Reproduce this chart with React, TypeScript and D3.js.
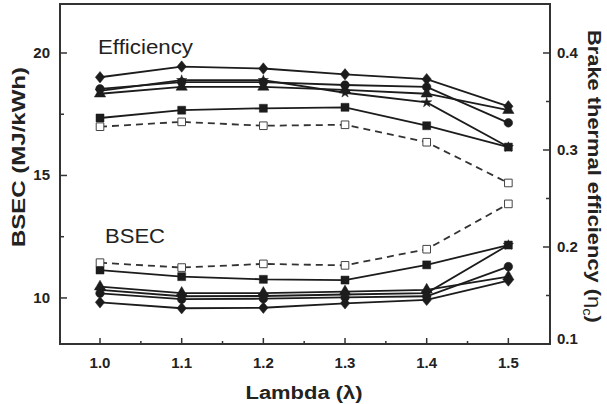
import { useEffect, useRef } from 'react';
import * as d3 from 'd3';

// Excess air ratio on the x axis
const lambda = [1.0, 1.1, 1.2, 1.3, 1.4, 1.5];

// Brake thermal efficiency (right axis)
const effDiamond = [0.375, 0.386, 0.384, 0.378, 0.373, 0.345];
const effCircle = [0.363, 0.37, 0.37, 0.367, 0.365, 0.328];
const effStar = [0.361, 0.372, 0.372, 0.359, 0.349, 0.303];
const effTriangle = [0.358, 0.365, 0.365, 0.362, 0.358, 0.341];
const effSquare = [0.333, 0.341, 0.343, 0.344, 0.325, 0.303];
const effOpen = [0.324, 0.329, 0.325, 0.326, 0.308, 0.266];

// Brake specific energy consumption, MJ/kWh (left axis)
const bsecDiamond = [9.82, 9.58, 9.6, 9.78, 9.92, 10.71];
const bsecCircle = [10.19, 9.95, 9.97, 10.02, 10.07, 11.28];
const bsecStar = [10.33, 10.07, 10.08, 10.14, 10.2, 12.16];
const bsecTriangle = [10.46, 10.2, 10.2, 10.26, 10.33, 10.87];
const bsecSquare = [11.14, 10.87, 10.76, 10.73, 11.35, 12.16];
const bsecOpen = [11.44, 11.24, 11.39, 11.33, 11.99, 13.84];

const xTicks = [1.0, 1.1, 1.2, 1.3, 1.4, 1.5];
const leftTicks = [10, 15, 20];
const rightTicks = [0.1, 0.2, 0.3, 0.4];

const INK = '#1c1c1c';
const FONT = "'Liberation Sans', Arial, Helvetica, sans-serif";

// custom diamond, a bit wider than d3.symbolDiamond
const diamond = {
  draw(ctx, size) {
    const h = Math.sqrt(size) * 0.62;
    const w = h * 0.82;
    ctx.moveTo(0, -h);
    ctx.lineTo(w, 0);
    ctx.lineTo(0, h);
    ctx.lineTo(-w, 0);
    ctx.closePath();
  }
};

// star first so the other symbols sit on top of it
const series = [
  { eff: effStar, bsec: bsecStar, type: d3.symbolStar, size: 32, open: false },
  { eff: effTriangle, bsec: bsecTriangle, type: d3.symbolTriangle, size: 55, open: false },
  { eff: effCircle, bsec: bsecCircle, type: d3.symbolCircle, size: 58, open: false },
  { eff: effDiamond, bsec: bsecDiamond, type: diamond, size: 85, open: false },
  { eff: effSquare, bsec: bsecSquare, type: d3.symbolSquare, size: 64, open: false },
  { eff: effOpen, bsec: bsecOpen, type: d3.symbolSquare, size: 58, open: true }
];

const App = () => {
  const svgRef = useRef(null);

  useEffect(() => {
    const svg = d3.select(svgRef.current);
    svg.selectAll('*').remove();

    const left = 60, right = 550, top = 4, bottom = 344;

    const x = d3.scaleLinear().domain([0.951, 1.551]).range([left, right]);
    const yL = d3.scaleLinear().domain([8.12, 22]).range([bottom, top]);
    const yR = d3.scaleLinear().domain([0.1, 0.4505]).range([bottom, top]);

    const g = svg.append('g');

    // Frame
    g.append('rect')
      .attr('x', left)
      .attr('y', top)
      .attr('width', right - left)
      .attr('height', bottom - top)
      .attr('fill', 'none')
      .attr('stroke', '#333')
      .attr('stroke-width', 2);

    // x ticks, pointing inward
    const xMinor = d3.range(1.05, 1.5, 0.1);
    g.selectAll('.xt')
      .data(xTicks)
      .enter()
      .append('line')
      .attr('x1', d => x(d))
      .attr('x2', d => x(d))
      .attr('y1', bottom)
      .attr('y2', bottom - 6)
      .attr('stroke', '#333')
      .attr('stroke-width', 1.5);
    g.selectAll('.xm')
      .data(xMinor)
      .enter()
      .append('line')
      .attr('x1', d => x(d))
      .attr('x2', d => x(d))
      .attr('y1', bottom)
      .attr('y2', bottom - 3)
      .attr('stroke', '#333')
      .attr('stroke-width', 1.5);
    g.selectAll('.xl')
      .data(xTicks)
      .enter()
      .append('text')
      .attr('x', d => x(d))
      .attr('y', 368)
      .attr('text-anchor', 'middle')
      .style('font', `bold 15px ${FONT}`)
      .attr('fill', '#222')
      .text(d => d.toFixed(1));

    // left ticks
    [...leftTicks, 12.5, 17.5].forEach(v => {
      const major = leftTicks.includes(v);
      g.append('line')
        .attr('x1', left)
        .attr('x2', left + (major ? 7 : 4))
        .attr('y1', yL(v))
        .attr('y2', yL(v))
        .attr('stroke', '#333')
        .attr('stroke-width', 1.5);
    });
    g.selectAll('.yl')
      .data(leftTicks)
      .enter()
      .append('text')
      .attr('x', 50)
      .attr('y', d => yL(d) + 5)
      .attr('text-anchor', 'end')
      .style('font', `bold 15px ${FONT}`)
      .attr('fill', '#222')
      .text(d => d);

    // right ticks
    [...rightTicks, 0.15, 0.25, 0.35].forEach(v => {
      const major = rightTicks.includes(v);
      g.append('line')
        .attr('x1', right)
        .attr('x2', right - (major ? 7 : 4))
        .attr('y1', yR(v))
        .attr('y2', yR(v))
        .attr('stroke', '#333')
        .attr('stroke-width', 1.5);
    });
    g.selectAll('.yr')
      .data(rightTicks)
      .enter()
      .append('text')
      .attr('x', 557)
      .attr('y', d => (d === 0.1 ? yR(d) : yR(d) + 5))
      .style('font', `bold 15px ${FONT}`)
      .attr('fill', '#222')
      .text(d => d.toFixed(1));

    // Axis titles
    g.append('text')
      .attr('x', 304)
      .attr('y', 399)
      .attr('text-anchor', 'middle')
      .attr('textLength', 117)
      .attr('lengthAdjust', 'spacingAndGlyphs')
      .style('font', `bold 18px ${FONT}`)
      .attr('fill', '#222')
      .text('Lambda (λ)');

    g.append('text')
      .attr('transform', 'translate(25,157) rotate(-90)')
      .attr('text-anchor', 'middle')
      .attr('textLength', 180)
      .attr('lengthAdjust', 'spacingAndGlyphs')
      .style('font', `bold 19px ${FONT}`)
      .attr('fill', '#222')
      .text('BSEC (MJ/kWh)');

    const rt = g.append('text')
      .attr('transform', 'translate(588,30) rotate(90)')
      .style('font', `bold 18px ${FONT}`)
      .attr('fill', '#222');
    rt.append('tspan').text('Brake thermal efficiency (');
    rt.append('tspan').style('font-weight', 'normal').text('η');
    rt.append('tspan').attr('dy', 5).style('font-size', '12px').style('font-weight', 'normal').text('c');
    rt.append('tspan').attr('dy', -5).text(')');
    const len = rt.node().getComputedTextLength();
    rt.attr('transform', `translate(588,30) rotate(90) scale(${293 / len},1)`);

    // Group labels
    g.append('text')
      .attr('x', 98)
      .attr('y', 54)
      .attr('textLength', 95)
      .attr('lengthAdjust', 'spacingAndGlyphs')
      .style('font', `20px ${FONT}`)
      .attr('fill', '#222')
      .text('Efficiency');
    g.append('text')
      .attr('x', 105)
      .attr('y', 243)
      .attr('textLength', 60)
      .attr('lengthAdjust', 'spacingAndGlyphs')
      .style('font', `20px ${FONT}`)
      .attr('fill', '#222')
      .text('BSEC');

    const lineEff = d3.line().x((d, i) => x(lambda[i])).y(d => yR(d));
    const lineBsec = d3.line().x((d, i) => x(lambda[i])).y(d => yL(d));

    // Lines
    series.forEach(s => {
      [lineEff(s.eff), lineBsec(s.bsec)].forEach(p => {
        g.append('path')
          .attr('d', p)
          .attr('fill', 'none')
          .attr('stroke', s.open ? '#333' : INK)
          .attr('stroke-width', 1.8)
          .attr('stroke-dasharray', s.open ? '7,5' : null);
      });
    });

    // Markers
    series.forEach(s => {
      const sym = d3.symbol().type(s.type).size(s.size)();
      const pts = [
        ...s.eff.map((v, i) => [x(lambda[i]), yR(v)]),
        ...s.bsec.map((v, i) => [x(lambda[i]), yL(v)])
      ];
      g.selectAll(null)
        .data(pts)
        .enter()
        .append('path')
        .attr('d', sym)
        .attr('transform', d => `translate(${d[0]},${d[1]})`)
        .attr('fill', s.open ? '#fff' : INK)
        .attr('stroke', s.open ? '#444' : INK)
        .attr('stroke-width', s.open ? 1 : 0.5);
    });
  }, []);

  return (
    <svg
      ref={svgRef}
      width={607}
      height={404}
      style={{ position: 'absolute', left: 0, top: 0, background: '#fff' }}
    ></svg>
  );
};

export default App;
